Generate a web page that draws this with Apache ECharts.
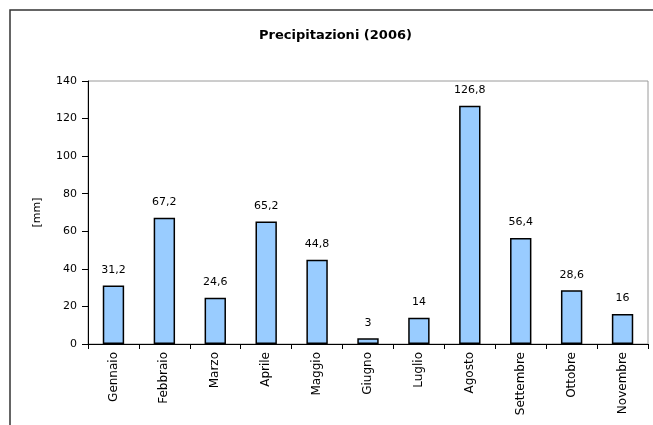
<!DOCTYPE html>
<html>
<head>
<meta charset="utf-8">
<script src="https://cdn.jsdelivr.net/npm/echarts@6/dist/echarts.min.js"></script>
<style>
  html, body { margin: 0; padding: 0; background: #fff; }
  #chart { width: 653px; height: 425px; }
</style>
</head>
<body>
<div id="chart"></div>
<script>
// Monthly rainfall, 2006
const months = ['Gennaio', 'Febbraio', 'Marzo', 'Aprile', 'Maggio', 'Giugno',
                'Luglio', 'Agosto', 'Settembre', 'Ottobre', 'Novembre'];
const rainfall = [31.2, 67.2, 24.6, 65.2, 44.8, 3, 14, 126.8, 56.4, 28.6, 16];
const yTicks = [0, 20, 40, 60, 80, 100, 120, 140];

const FONT = '"DejaVu Sans", Verdana, sans-serif';

const chart = echarts.init(document.getElementById('chart'), null, { renderer: 'canvas' });

chart.setOption({
  animation: false,
  backgroundColor: '#ffffff',
  title: {
    text: 'Precipitazioni (2006)',
    left: 254,
    top: 24,
    textStyle: { fontFamily: FONT, fontSize: 13, fontWeight: 'bold', color: '#000' }
  },
  graphic: [{
    // outer frame of the chart sheet
    type: 'rect',
    shape: { x: 10, y: 10, width: 700, height: 500 },
    style: { fill: 'none', stroke: '#333', lineWidth: 1.5 },
    silent: true
  }],
  grid: {
    left: 88, right: 5, top: 81, bottom: 81,
    show: true,
    borderColor: '#9a9a9a',
    borderWidth: 1,
    backgroundColor: 'transparent'
  },
  xAxis: {
    type: 'category',
    data: months,
    boundaryGap: true,
    axisLine: { lineStyle: { color: '#000', width: 1 } },
    axisTick: { show: true, length: 5, lineStyle: { color: '#000' } },
    axisLabel: {
      rotate: 90,
      margin: 8,
      fontFamily: FONT,
      fontSize: 12,
      color: '#000'
    },
    splitLine: { show: false }
  },
  yAxis: {
    type: 'value',
    min: yTicks[0],
    max: yTicks[yTicks.length - 1],
    interval: yTicks[1] - yTicks[0],
    name: '[mm]',
    nameLocation: 'middle',
    nameRotate: 90,
    nameGap: 45,
    nameTextStyle: { fontFamily: FONT, fontSize: 11, color: '#000' },
    axisLine: { show: true, lineStyle: { color: '#000', width: 1 } },
    axisTick: { show: true, length: 6, lineStyle: { color: '#000' } },
    axisLabel: { margin: 11, fontFamily: FONT, fontSize: 11, color: '#000' },
    splitLine: { show: false }
  },
  series: [{
    type: 'bar',
    data: rainfall,
    barWidth: '42%',
    itemStyle: { color: '#99ccff', borderColor: '#000', borderWidth: 1.5 },
    label: {
      show: true,
      position: 'top',
      distance: 10,
      fontFamily: FONT,
      fontSize: 11,
      color: '#000',
      formatter: p => String(p.value).replace('.', ',')
    }
  }]
});
</script>
</body>
</html>
